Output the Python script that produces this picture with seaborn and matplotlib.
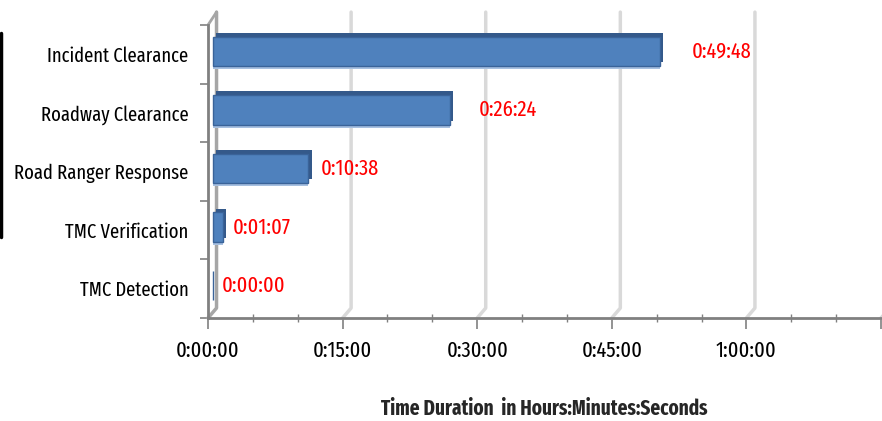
import matplotlib
matplotlib.use("Agg")
import matplotlib.pyplot as plt
import matplotlib.patheffects as pe
from matplotlib.ticker import FuncFormatter, MultipleLocator
from matplotlib.lines import Line2D
import matplotlib.transforms as mtransforms
import seaborn as sns
import pandas as pd

# ---- data ----
categories = ["Incident Clearance", "Roadway Clearance", "Road Ranger Response",
              "TMC Verification", "TMC Detection"]
durations_sec = [2988, 1584, 638, 67, 0]   # 0:49:48, 0:26:24, 0:10:38, 0:01:07, 0:00:00
major_ticks_min = [0, 15, 30, 45, 60, 75]

def hms(sec):
    sec = int(round(sec))
    return f"{sec // 3600}:{(sec % 3600) // 60:02d}:{sec % 60:02d}"

df = pd.DataFrame({"category": categories,
                   "minutes": [s / 60 for s in durations_sec]})

sns.set_style("white")
plt.rcParams["font.family"] = ["Fira Sans Extra Condensed", "DejaVu Sans"]

fig = plt.figure(figsize=(8.82, 4.21), dpi=100)
ax = fig.add_axes([208 / 882, 1 - 318 / 421, (881 - 208) / 882, 293 / 421])

bar_main = "#4F81BD"
sns.barplot(data=df, y="category", x="minutes", orient="h", color=bar_main,
            width=0.5, edgecolor="#3A6399", linewidth=1.0, saturation=1,
            ax=ax, zorder=3)

shift = mtransforms.ScaledTranslation(5 / 100, 3 / 100, fig.dpi_scale_trans)
for p in ax.patches:
    p.set_transform(ax.transData + shift)
    p.set_path_effects([
        pe.SimplePatchShadow(offset=(0, -2.2), shadow_rgbFace="#A7C0E0", alpha=1),
        pe.SimplePatchShadow(offset=(2.5, 2.8), shadow_rgbFace="#34598A", alpha=1),
        pe.Normal()])

ax.set_xlim(0, 75)
ax.set_ylim(len(categories) - 0.5, -0.5)

# 3D-looking gridlines (back wall)
gx = ax.get_xaxis_transform()
dx = 0.95
for v in major_ticks_min:
    col = "#A6A6A6" if v == 0 else "#D9D9D9"
    ax.plot([v, v + dx, v + dx], [0, 0.034, 1.044], transform=gx,
            color=col, lw=2.5, clip_on=False, zorder=1, solid_joinstyle="round")
ax.plot([0, dx], [1.0, 1.044], transform=gx, color="#A6A6A6", lw=2,
        clip_on=False, zorder=1)

# value labels
label_off_px = [37, 34, 17, 15, 14]
for i, (s, off) in enumerate(zip(durations_sec, label_off_px)):
    ax.annotate(hms(s), xy=(s / 60, i), xytext=(off * 0.72, 2),
                textcoords="offset points", va="center", ha="left",
                color="#FF0000", fontsize=16, zorder=5)

# axes styling
for side in ["top", "right"]:
    ax.spines[side].set_visible(False)
for side in ["left", "bottom"]:
    ax.spines[side].set_color("#808080")
    ax.spines[side].set_linewidth(2)
    ax.spines[side].set_zorder(4)

ax.xaxis.set_major_locator(MultipleLocator(15))
ax.xaxis.set_minor_locator(MultipleLocator(5))
ax.xaxis.set_major_formatter(FuncFormatter(
    lambda v, p: hms(v * 60) if v < 74 else ""))
ax.tick_params(axis="x", which="major", direction="out", length=8, width=1.2,
               color="#808080", pad=8, labelsize=16, labelcolor="black",
               bottom=True)
ax.tick_params(axis="x", which="minor", direction="inout", length=6, width=1,
               color="#808080", bottom=True)

ax.set_yticks([i + 0.5 for i in range(-1, len(categories))], minor=True)
ax.tick_params(axis="y", which="minor", direction="out", length=6, width=1.2,
               color="#808080", left=True)
ax.tick_params(axis="y", which="major", length=0, pad=14, labelsize=14.5,
               labelcolor="black")
for t in ax.get_yticklabels():
    t.set_y(t.get_position()[1])
ax.set_ylabel("")
ax.set_xlabel("Time Duration  in Hours:Minutes:Seconds", fontsize=15,
              fontweight="bold", labelpad=26)

fig.add_artist(Line2D([0.0015, 0.0015], [1 - 33 / 421, 1 - 237 / 421],
                      color="black", lw=2.5))

fig.savefig("out.png", dpi=100)
